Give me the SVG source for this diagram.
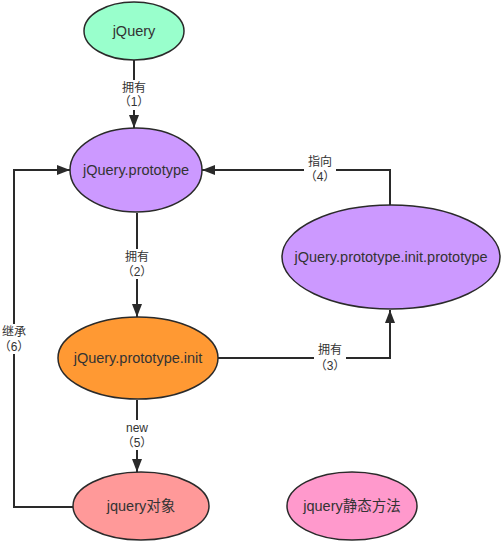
<svg xmlns="http://www.w3.org/2000/svg" width="501" height="543" viewBox="0 0 501 543">
<style>
.n{stroke:#2a2a2a;stroke-width:1.5}
.t{font-family:"Liberation Sans","Noto Sans CJK SC",sans-serif;font-size:14.5px;fill:#333;text-anchor:middle;dominant-baseline:central}
.l{font-family:"Liberation Sans","Noto Sans CJK SC",sans-serif;font-size:12px;fill:#333;text-anchor:middle;dominant-baseline:central}
.c{fill:none;stroke:#2a2a2a;stroke-width:2}
.bg{fill:#fff}
</style>
<defs>
<marker id="a" viewBox="0 0 13 10" refX="13" refY="5" markerWidth="13" markerHeight="10" markerUnits="userSpaceOnUse" orient="auto">
<path d="M0,0L13,5L0,10z" fill="#2a2a2a"/>
</marker>
</defs>
<rect width="501" height="543" fill="#fff"/>
<g id="connectors">
<path class="c" d="M134,60V128" marker-end="url(#a)"/>
<path class="c" d="M137,213V317" marker-end="url(#a)"/>
<path class="c" d="M137,400V472" marker-end="url(#a)"/>
<path class="c" d="M218,358H390V310" marker-end="url(#a)"/>
<path class="c" d="M390,205V170H202" marker-end="url(#a)"/>
<path class="c" d="M73,507H14V170H70" marker-end="url(#a)"/>
<rect class="bg" x="118" y="80" width="32" height="30"/>
<text class="l" x="134" y="88">拥有</text>
<text class="l" x="134" y="102">（1）</text>
<rect class="bg" x="121" y="249" width="32" height="30"/>
<text class="l" x="137" y="257">拥有</text>
<text class="l" x="137" y="272">（2）</text>
<rect class="bg" x="314" y="342" width="32" height="30"/>
<text class="l" x="330" y="350">拥有</text>
<text class="l" x="330" y="366">（3）</text>
<rect class="bg" x="304" y="154" width="32" height="30"/>
<text class="l" x="320" y="162">指向</text>
<text class="l" x="320" y="177">（4）</text>
<rect class="bg" x="121" y="420" width="32" height="30"/>
<text class="l" x="137" y="428">new</text>
<text class="l" x="137" y="443">（5）</text>
<rect class="bg" x="0" y="324" width="30" height="30"/>
<text class="l" x="14" y="332">继承</text>
<text class="l" x="14" y="347">（6）</text>
</g>
<g id="jquery">
<ellipse class="n" cx="134" cy="31" rx="50" ry="29" fill="#99ffcc"/>
<text class="t" x="134" y="31">jQuery</text>
</g>
<g id="prototype">
<ellipse class="n" cx="136" cy="170" rx="66" ry="42" fill="#cc99ff"/>
<text class="t" x="136" y="170">jQuery.prototype</text>
</g>
<g id="init-prototype">
<ellipse class="n" cx="391" cy="257" rx="109" ry="52" fill="#cc99ff"/>
<text class="t" x="391" y="257">jQuery.prototype.init.prototype</text>
</g>
<g id="init">
<ellipse class="n" cx="138" cy="358" rx="80" ry="41" fill="#ff9933"/>
<text class="t" x="138" y="358">jQuery.prototype.init</text>
</g>
<g id="jquery-object">
<ellipse class="n" cx="141" cy="506" rx="68" ry="34" fill="#ff9999"/>
<text class="t" x="141" y="506">jquery对象</text>
</g>
<g id="jquery-static">
<ellipse class="n" cx="352" cy="506" rx="65" ry="34" fill="#ff99cc"/>
<text class="t" x="352" y="506">jquery静态方法</text>
</g>
</svg>
